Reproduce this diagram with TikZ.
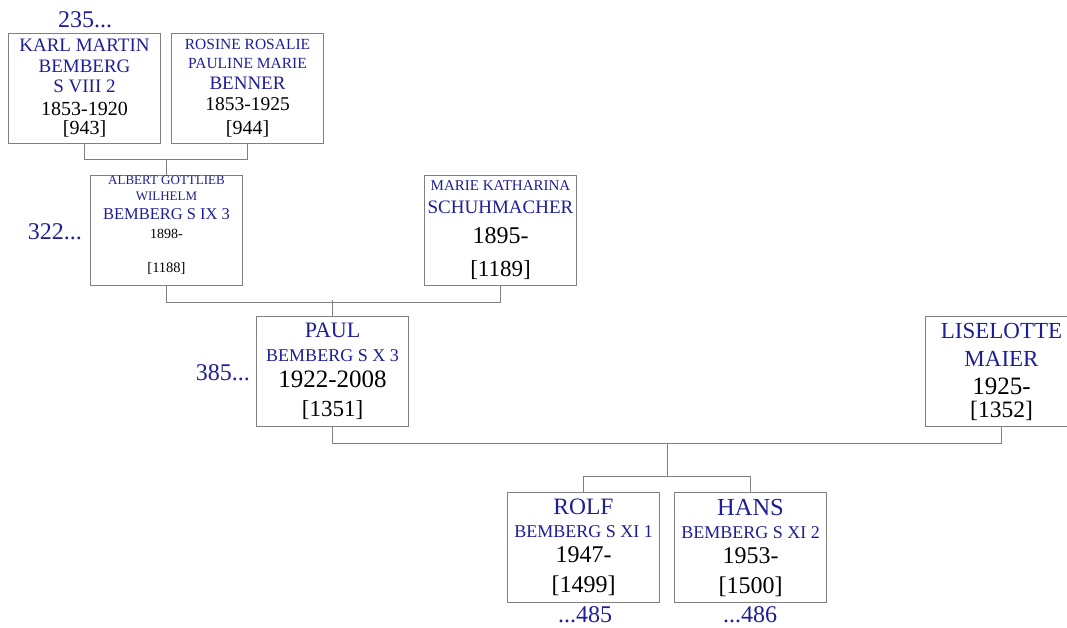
\documentclass[tikz,border=0pt]{standalone}
\usepackage{fontspec}
\setmainfont{Liberation Serif}
\usetikzlibrary{calc}
\definecolor{namecol}{RGB}{30,30,150}
\definecolor{boxgray}{RGB}{128,128,128}
\newcommand\fs[1]{\fontsize{#1}{#1}\selectfont}
\newcommand\nm[1]{\fontsize{#1}{#1}\selectfont\color{namecol}}
\tikzset{
  person/.style={draw=boxgray, line width=1pt, anchor=north west,
    minimum width=152, minimum height=110, inner sep=0pt, align=center},
  link/.style={draw=boxgray, line width=1pt},
  ref/.style={text=namecol, font=\fs{24}, inner sep=0pt}
}
\begin{document}
\begin{tikzpicture}[x=1pt, y=-1pt]
\useasboundingbox (0,0) rectangle (1067,628);
\clip (0,0) rectangle (1067,628);

% generation VIII
\node[person, font=\fs{20}] (karl) at (8,33)
  {\nm{19}KARL MARTIN\\[1pt]\nm{19}BEMBERG\\\nm{19}S VIII 2\\[3pt]1853-1920\\[-1pt]{[943]}};
\node[person, font=\fs{20}] (rosine) at (171,33)
  {\nm{15.5}ROSINE ROSALIE\\[-1pt]\nm{15.5}PAULINE MARIE\\[1pt]\nm{19}BENNER\\[1pt]\fs{19.5}1853-1925\\[4pt]{[944]}};

% generation IX
\node[person, font=\fs{17}] (albert) at (90,175)
  {\nm{13}ALBERT GOTTLIEB\\[-1pt]\nm{13}WILHELM\\[2pt]\nm{16.5}BEMBERG S IX 3\\[2pt]\fs{14}1898-\\[17pt]\fs{14.5}{[1188]}\rule[-13pt]{0pt}{0pt}};
\node[person, font=\fs{23}] (marie) at (424,175)
  {\nm{15}MARIE KATHARINA\\\nm{19}SCHUHMACHER\\[7pt]\fs{24}1895-\\[10pt]{[1189]}};

% generation X
\node[person, font=\fs{24}] (paul) at (256,316)
  {\nm{22}PAUL\\\nm{18}BEMBERG S X 3\\[2pt]\fs{25}1922-2008\\[5pt]\fs{23}{[1351]}};
\node[person, font=\fs{26}] (liselotte) at (925,316)
  {\nm{23}LISELOTTE\\[2pt]\nm{23}MAIER\\[2pt]\fs{25}1925-\\[-3pt]\fs{23.5}{[1352]}};

% generation XI
\node[person, font=\fs{23}] (rolf) at (507,492)
  {\nm{23.5}ROLF\\\nm{18}BEMBERG S XI 1\\[2pt]\fs{24}1947-\\[7pt]\fs{24}{[1499]}};
\node[person, font=\fs{23}] (hans) at (674,492)
  {\nm{24.5}HANS\\\nm{18}BEMBERG S XI 2\\[2pt]\fs{24}1953-\\[7pt]\fs{24}{[1500]}};

% links
\draw[link] (karl.south) -- ++(0,16) -| (rosine.south);
\draw[link] (albert.north) -- ++(0,-16);
\draw[link] (albert.south) -- ++(0,16) -| (marie.south);
\draw[link] (paul.north) -- ++(0,-16);
\draw[link] (paul.south) -- ++(0,16) coordinate (couple) -| (liselotte.south);
\coordinate (mid) at ($(couple)!0.5!(couple -| liselotte.south)$);
\draw[link] (rolf.north) -- ++(0,-16) coordinate (sibs) -| (hans.north);
\draw[link] (mid) -- (mid |- sibs);

% references
\node[ref, anchor=base] (gen235) at (85,28) {235...};
\node[ref, anchor=base east] (gen322) at (82,240) {322...};
\node[ref, anchor=base east] (gen385) at (250,380) {385...};
\node[ref, anchor=base] (gen485) at (585,622) {...485};
\node[ref, anchor=base] (gen486) at (750,622) {...486};
\end{tikzpicture}
\end{document}
